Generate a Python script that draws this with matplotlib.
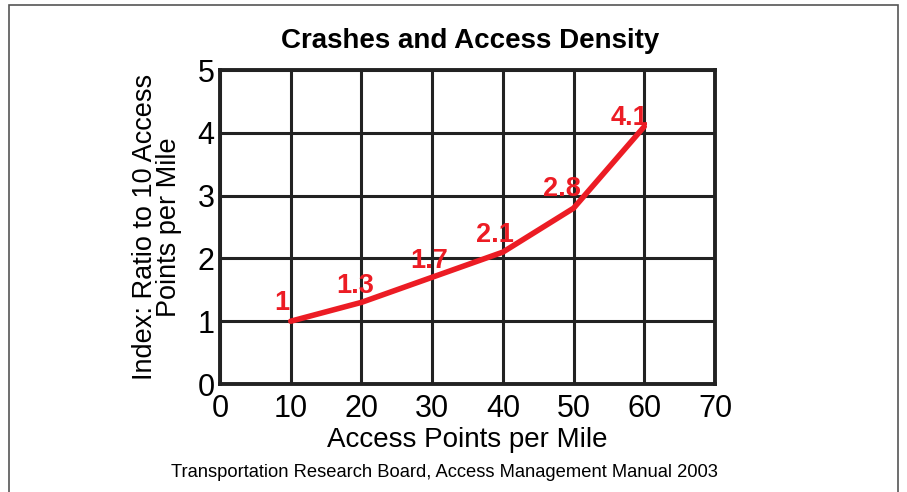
import matplotlib
matplotlib.use("Agg")
import matplotlib.pyplot as plt
from matplotlib.patches import Rectangle

points = [10, 20, 30, 40, 50, 60]  # access points per mile
index = [1, 1.3, 1.7, 2.1, 2.8, 4.1]  # ratio to 10 access points
labels = ["1", "1.3", "1.7", "2.1", "2.8", "4.1"]
xticks = [0, 10, 20, 30, 40, 50, 60, 70]
yticks = [0, 1, 2, 3, 4, 5]

red = "#ec1c24"
plt.rcParams['font.family'] = ['Liberation Sans', 'DejaVu Sans']

fig = plt.figure(figsize=(9.07, 4.92), dpi=100)
ax = fig.add_axes([0.2426, 0.2195, 0.5457, 0.6382])

# outer frame
fig.patches.append(Rectangle((0.01, -0.01), 0.98, 1.0, transform=fig.transFigure,
                             fill=False, edgecolor="#555555", linewidth=1.2))

ax.plot(points, index, color=red, linewidth=4, solid_capstyle='round', zorder=3)
offs = [(-6.5, 15), (-4.3, 13.7), (-2, 13.7), (-5.8, 14.4), (-8.6, 15.8), (-10.8, 8.6)]
for x, y, t, o in zip(points, index, labels, offs):
    ax.annotate(t, (x, y), xytext=o, textcoords='offset points', ha='center',
                va='center_baseline', color=red, fontsize=19.5, fontweight='bold', zorder=4)

ax.set_xlim(0, 70)
ax.set_ylim(0, 5)
ax.set_xticks(xticks)
ax.set_yticks(yticks)
ax.grid(True, color='#222222', linewidth=2.2)
ax.set_axisbelow(True)
for s in ax.spines.values():
    s.set_linewidth(2.8)
    s.set_color('#222222')
ax.tick_params(length=0, labelsize=22)
ax.tick_params(axis='x', pad=7)
ax.tick_params(axis='y', pad=4)
ax.set_xlabel("Access Points per Mile", fontsize=20, labelpad=2)
ax.set_ylabel("Index: Ratio to 10 Access\nPoints per Mile", fontsize=19.5, labelpad=11, linespacing=0.9)
ax.set_title("Crashes and Access Density", fontsize=20, fontweight='bold', pad=16, x=0.505)

fig.text(0.49, 0.04, "Transportation Research Board, Access Management Manual 2003",
         ha='center', va='center', fontsize=13.2)

plt.savefig('out.png', dpi=100)
